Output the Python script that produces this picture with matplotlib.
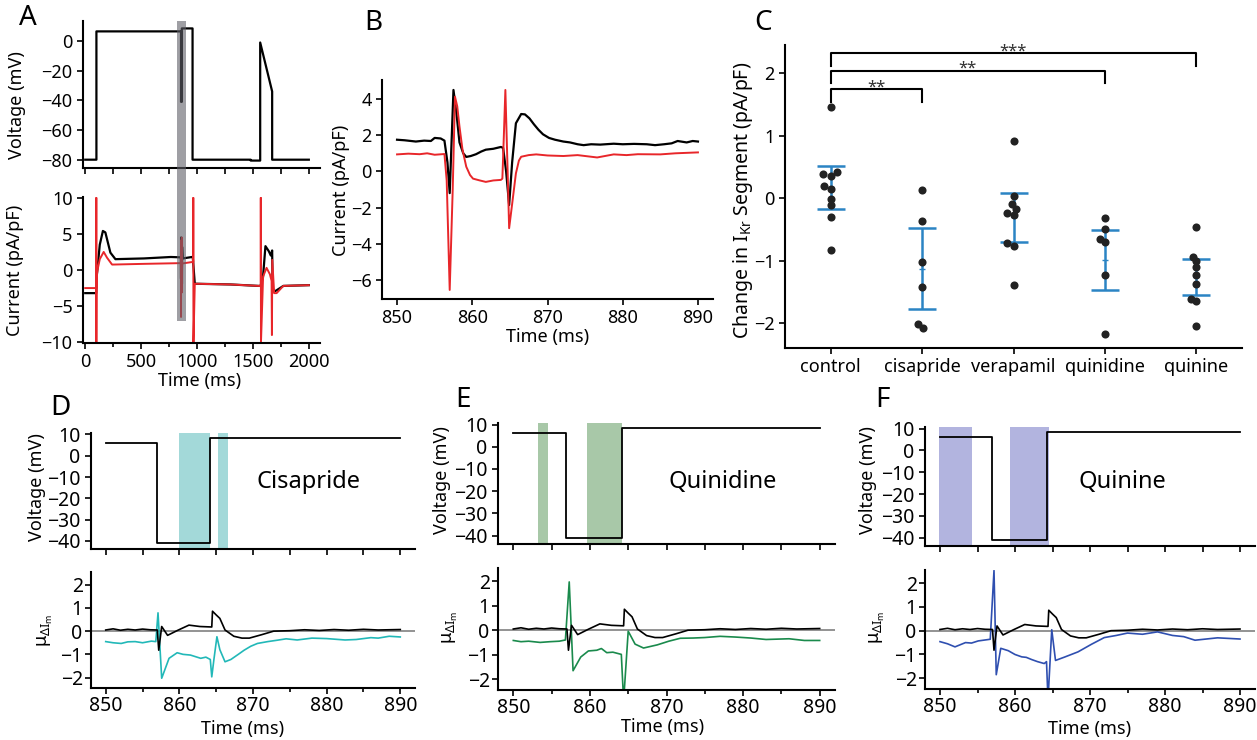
import numpy as np
import matplotlib
matplotlib.use("Agg")
import matplotlib.pyplot as plt
from matplotlib.patches import Rectangle
from matplotlib.ticker import MultipleLocator

plt.rcParams['font.family'] = ['Noto Sans', 'DejaVu Sans']
plt.rcParams['mathtext.fontset'] = 'custom'
plt.rcParams['mathtext.rm'] = 'Noto Sans'
plt.rcParams['mathtext.it'] = 'Noto Sans:italic'
plt.rcParams['axes.linewidth'] = 1.5

# ---------------- data ----------------
# A: full protocol (voltage) and currents, control (black) vs drug (red)
a_volt_t = [0, 100, 100, 857, 857, 864, 864, 960, 960, 1480, 1480, 1565, 1565, 1672, 1672, 2000]
a_volt_v = [-80, -80, 6.5, 6.5, -41, -41, 8.5, 8.5, -80, -80, -80.6, -80.6, -1, -34, -80, -80]
a_ctrl_t = [0, 98, 102, 130, 158, 180, 225, 270, 525, 766, 856, 857, 857.5, 859, 864, 865,
            866.5, 872, 955, 962, 980, 1300, 1550, 1568, 1590, 1612, 1642, 1660, 1672, 1676,
            1690, 1712, 1772, 2000]
a_ctrl_v = [-3.2, -3.2, -1, 3.5, 5.4, 5.2, 2.4, 1.5, 1.6, 1.8, 1.75, -1.2, 4.5, 0.8, 1.3, -1.9,
            3.2, 1.6, 1.8, 1.8, -1.9, -2.0, -2.2, -2.2, -1.0, 3.3, 2.6, 2.0, 2.7, -2.5,
            -3.0, -2.8, -2.2, -2.1]
a_drug_t = [0, 98, 99, 99.5, 101, 110, 130, 165, 195, 240, 525, 856, 857, 857.8, 859, 861, 864,
            864.4, 864.9, 866.5, 955, 966, 966.5, 968, 980, 1300, 1550, 1570, 1570.5, 1572, 1591,
            1622, 1652, 1667, 1670, 1673, 1690, 1712, 1772, 2000]
a_drug_v = [-2.5, -2.5, 10, -10, -1, 0, 1.5, 2.5, 1.7, 0.75, 0.85, 0.95, -6.5, 4.1, 0.3, -0.5, -0.5,
            4.5, -3.1, 0.9, 1.1, 1.1, 10, -10, -1.9, -2.0, -2.2, -2.2, 10, -10, -0.9,
            0.3, -0.6, -1.5, -9.0, 1.4, -3.2, -3.2, -2.2, -2.1]
a_window = (825, 905)

# B: zoom on 850-890 ms
b_ctrl_t = [850, 851, 852.5, 853.6, 854.5, 855, 855.8, 856.3, 856.7, 857.0, 857.5, 857.9, 858.3,
            858.8, 859.2, 859.8, 860.5, 861.2, 861.8, 862.8, 863.8, 864.1, 864.5, 864.9, 865.3,
            865.8, 866.5, 867.0, 867.6, 868.2, 868.8, 869.4, 870.2, 871, 872.1, 873, 874, 874.8,
            875.8, 877, 878.8, 880, 881.5, 883.2, 884.3, 885.5, 886.5, 887.3, 888.5, 889.3, 890]
b_ctrl_v = [1.75, 1.72, 1.65, 1.7, 1.68, 1.85, 1.82, 1.7, 0.5, -1.2, 4.5, 3.2, 1.6,
            1.0, 0.8, 0.85, 0.95, 1.1, 1.2, 1.25, 1.35, 1.3, 0.0, -1.86, 0.5,
            2.66, 3.17, 3.15, 2.93, 2.6, 2.3, 2.05, 1.85, 1.75, 1.65, 1.6, 1.5, 1.45,
            1.5, 1.48, 1.53, 1.5, 1.52, 1.5, 1.45, 1.5, 1.55, 1.68, 1.6, 1.68, 1.65]
b_drug_t = [850, 851.5, 853, 854, 855, 856.3, 856.6, 857.0, 857.4, 857.7, 858.0, 858.3, 858.7,
            859.2, 859.7, 860.1, 861, 861.8, 862.8, 863.8, 864.0, 864.2, 864.4, 864.7, 864.9,
            865.3, 865.8, 866.2, 866.5, 867.5, 868.5, 870, 872.1, 874, 876.6, 878.8, 880.5,
            882, 885, 887, 890]
b_drug_v = [0.94, 0.98, 0.95, 1.0, 0.92, 0.96, -0.5, -6.55, -1.0, 4.13, 3.6, 2.48, 1.2,
            0.26, -0.2, -0.4, -0.5, -0.58, -0.5, -0.47, -0.4, 2.0, 4.5, 0.0, -3.14,
            -1.8, -0.11, 0.6, 0.81, 0.9, 0.94, 0.88, 0.85, 0.9, 0.77, 0.94, 0.9,
            0.95, 0.94, 1.0, 1.05]

# C: change in IKr segment per drug
c_groups = ['control', 'cisapride', 'verapamil', 'quinidine', 'quinine']
c_values = [
    [1.46, 0.38, 0.36, 0.42, 0.19, 0.14, -0.02, -0.11, -0.30, -0.83],
    [0.13, -0.36, -1.02, -1.42, -2.02, -2.08],
    [0.91, 0.03, -0.10, -0.18, -0.24, -0.27, -0.72, -0.77, -1.39],
    [-0.32, -0.50, -0.65, -0.71, -1.23, -2.18],
    [-0.47, -0.94, -1.00, -1.11, -1.23, -1.37, -1.61, -1.65, -2.04],
]
c_jitter = [
    [0, -0.085, 0, 0.07, -0.075, 0, 0, 0, 0, 0],
    [0, 0, 0, 0, -0.05, 0.01],
    [0, 0, -0.02, 0.025, -0.07, 0, -0.07, 0, 0],
    [0, 0, -0.05, 0, 0, 0],
    [0, -0.04, 0, 0, 0, 0, -0.055, 0, 0],
]
c_err_top = [0.51, -0.48, 0.085, -0.51, -0.98]
c_err_bot = [-0.17, -1.78, -0.70, -1.47, -1.55]
c_sig = [(0, 1, '**', 1.74), (0, 3, '**', 2.04), (0, 4, '***', 2.32)]

# D-F: step protocol, control difference and drug difference
step_t = [850, 856.9, 856.9, 864.2, 864.2, 890]
step_v = [6, 6, -41, -41, 8.3, 8.3]
ctrl_t = [850, 851, 852, 853, 854, 855, 856, 857.0, 857.2, 857.6, 858.4, 859.8, 861.3, 862.8,
          864.4, 864.5, 865.0, 865.5, 866.2, 867.4, 868.5, 869.5, 871.2, 872.8, 875, 877, 879,
          881, 883, 885, 887, 890]
ctrl_v = [0.05, 0.1, 0.04, 0.08, 0.05, 0.09, 0.06, 0.05, -0.82, 0.2, -0.18, 0.04, 0.26, 0.2,
          0.18, 0.86, 0.7, 0.55, 0.05, -0.22, -0.3, -0.3, -0.15, 0.0, 0.02, 0.06, 0.03,
          0.07, 0.04, 0.08, 0.05, 0.07]
cis_t = [850, 851, 852.1, 853, 854, 855, 856.2, 856.8, 857.1, 857.6, 858.6, 859.7, 860.5, 861.5,
         862.2, 862.9, 863.6, 864.2, 864.4, 864.7, 865.1, 865.5, 866.2, 867.0, 868.0, 868.8,
         869.7, 870.6, 872, 873.3, 874.5, 876, 878, 880, 882.5, 884, 886, 887, 888.5, 890]
cis_v = [-0.45, -0.5, -0.53, -0.46, -0.45, -0.5, -0.43, -0.45, 0.79, -2.03, -1.17, -0.93, -1.0,
         -1.03, -1.1, -1.17, -1.12, -1.22, -1.97, -1.2, -0.24, -0.8, -1.32, -1.22, -1.0, -0.82,
         -0.65, -0.53, -0.45, -0.39, -0.33, -0.38, -0.3, -0.32, -0.38, -0.36, -0.28, -0.3,
         -0.22, -0.25]
qd_t = [850, 851, 852, 853.5, 854.8, 856, 856.8, 857.3, 857.8, 858.8, 859.8, 860.9, 861.5,
        862.2, 863, 864.1, 864.4, 865.0, 865.9, 867.0, 868.8, 870.3, 871.8, 873.5, 875, 877,
        879, 881, 883, 886, 888, 890]
qd_v = [-0.42, -0.47, -0.45, -0.5, -0.47, -0.45, -0.4, 1.98, -1.66, -1.1, -0.85, -0.82, -0.75,
        -0.92, -0.9, -0.99, -2.9, -0.04, -0.57, -0.73, -0.6, -0.45, -0.33, -0.32, -0.3, -0.25,
        -0.28, -0.32, -0.38, -0.35, -0.42, -0.42]
qn_t = [850, 851, 852.0, 853.4, 854.2, 855.1, 856.7, 857.2, 857.5, 858.1, 859.1, 860.0, 860.9,
        861.5, 862.2, 863.0, 863.9, 864.2, 864.4, 864.9, 865.4, 866.6, 868.4, 870.2, 871.9,
        873.5, 875, 877, 879, 881, 882.5, 884, 887, 890]
qn_v = [-0.46, -0.55, -0.68, -0.5, -0.52, -0.43, -0.36, 2.53, -1.85, -0.74, -0.84, -1.0, -1.1,
        -1.12, -1.21, -1.3, -1.38, -1.3, -2.9, 0.04, -1.25, -1.11, -0.89, -0.57, -0.29,
        -0.2, -0.1, -0.15, -0.05, -0.2, -0.25, -0.4, -0.3, -0.35]
cis_windows = [(860.0, 864.2), (865.2, 866.6)]
qd_windows = [(853.2, 854.5), (859.6, 864.2)]
qn_windows = [(849.8, 854.3), (859.3, 864.5)]

# ---------------- figure ----------------
W, H = 1257, 740
fig = plt.figure(figsize=(W / 100, H / 100), dpi=100)


def add_ax(l, t, r, b):
    ax = fig.add_axes([l / W, 1 - b / H, (r - l) / W, (b - t) / H])
    ax.set_facecolor('none')
    for s in ['top', 'right']:
        ax.spines[s].set_visible(False)
    ax.tick_params(direction='out', length=4, width=1.2, labelsize=13)
    ax.tick_params(which='minor', direction='out', length=3, width=1.2)
    return ax


def ylab(ax, text, x, y, size=13):
    ax.set_ylabel(text, fontsize=size, va='center')
    ax.yaxis.set_label_coords(x / W, 1 - y / H, transform=fig.transFigure)


def xlab(ax, text, x, y, size=13):
    ax.set_xlabel(text, fontsize=size, va='center')
    ax.xaxis.set_label_coords(x / W, 1 - y / H, transform=fig.transFigure)


def letter(s, x, y):
    fig.text(x / W, 1 - y / H, s, fontsize=20, ha='center', va='center')


# ---- A ----
axA1 = add_ax(83, 21, 320, 168)
axA2 = add_ax(83, 197, 320, 343)
axA1.plot(a_volt_t, a_volt_v, color='black', lw=1.6)
axA1.set_xlim(-20, 2100)
axA1.set_ylim(-85.6, 13.5)
axA1.set_yticks([0, -20, -40, -60, -80])
axA1.xaxis.set_major_locator(MultipleLocator(250))
axA1.set_xticklabels([])
ylab(axA1, 'Voltage (mV)', 17, 105)

axA2.plot(a_ctrl_t, a_ctrl_v, color='black', lw=1.6)
axA2.plot(a_drug_t, a_drug_v, color='#e8262a', lw=1.4)
axA2.set_xlim(-20, 2100)
axA2.set_ylim(-10.1, 10.1)
axA2.set_yticks([10, 5, 0, -5, -10])
axA2.set_xticks([0, 500, 1000, 1500, 2000])
axA2.xaxis.set_minor_locator(MultipleLocator(250))
ylab(axA2, 'Current (pA/pF)', 15, 270)
xlab(axA2, 'Time (ms)', 200, 381)

bar_col = '#606068'
axA1.axvspan(a_window[0], a_window[1], color=bar_col, alpha=0.6, lw=0, zorder=5)
fig.canvas.draw()
top_fig = axA1.get_position().y0
top_data = axA2.transData.inverted().transform(fig.transFigure.transform((0, top_fig)))[1]
axA2.add_patch(Rectangle((a_window[0], -7.0), a_window[1] - a_window[0], top_data + 7.0,
                         color=bar_col, alpha=0.6, lw=0, zorder=5, clip_on=False))

# ---- B ----
axB = add_ax(382, 80, 713, 299)
axB.plot(b_ctrl_t, b_ctrl_v, color='black', lw=1.6)
axB.plot(b_drug_t, b_drug_v, color='#e8262a', lw=1.4)
axB.set_xlim(848, 892)
axB.set_ylim(-7.05, 5.05)
axB.set_xticks([850, 860, 870, 880, 890])
axB.set_yticks([4, 2, 0, -2, -4, -6])
ylab(axB, 'Current (pA/pF)', 341, 190)
xlab(axB, 'Time (ms)', 548, 337)

# ---- C ----
axC = add_ax(785, 45, 1242, 348)
for i, (vals, jit) in enumerate(zip(c_values, c_jitter)):
    axC.scatter(np.array(jit) + i, vals, s=34, color='#222222', zorder=3, lw=0)
    mid = (c_err_top[i] + c_err_bot[i]) / 2
    axC.errorbar(i, mid, yerr=(c_err_top[i] - c_err_bot[i]) / 2,
                 color='#2b84c4', lw=1.8, capsize=10, capthick=1.8, fmt='none', zorder=2)
    axC.plot(i, mid, marker='_', ms=5, color='#2b84c4', zorder=2)
for a, b, stars, y in c_sig:
    axC.plot([a, a, b, b], [y - 0.2, y, y, y - 0.2], color='black', lw=1.5, clip_on=False)
    axC.text((a + b) / 2, y + 0.03, stars, ha='center', va='center', fontsize=12, color='#333333')
axC.set_xlim(-0.5, 4.5)
axC.set_ylim(-2.4, 2.45)
axC.set_xticks(range(len(c_groups)))
axC.set_xticklabels(c_groups, fontsize=13)
axC.set_yticks([-2, -1, 0, 1, 2])
ylab(axC, 'Change in I$_{\\mathrm{Kr}}$ Segment (pA/pF)', 743, 200, size=14)

# ---- D-F ----
panels = [
    ((91, 433, 415, 549), (91, 572, 415, 688), cis_windows, '#a3d9d9', cis_t, cis_v, '#22b8b8',
     'Cisapride', (0.67, 0.58), (37, 487), (45, 630), (243, 729)),
    ((498, 423, 835, 544), (498, 568, 835, 690), qd_windows, '#a8c8a8', qd_t, qd_v, '#1a8a4c',
     'Quinidine', (0.668, 0.51), (442, 480), (450, 627), (663, 727)),
    ((925, 427, 1255, 546), (925, 570, 1255, 689), qn_windows, '#b2b4df', qn_t, qn_v, '#2f4fb0',
     'Quinine', (0.597, 0.54), (868, 480), (877, 627), (1090, 729)),
]
for (top, bot, wins, shade, dt, dv, dcol, name, npos, vlab, mlab, tlab) in panels:
    axv = add_ax(*top)
    for w0, w1 in wins:
        axv.axvspan(w0, w1, color=shade, lw=0, zorder=0)
    axv.plot(step_t, step_v, color='black', lw=1.3, zorder=2)
    axv.set_xlim(848, 892)
    axv.set_ylim(-43.8, 10.7)
    axv.set_yticks([10, 0, -10, -20, -30, -40])
    axv.xaxis.set_major_locator(MultipleLocator(5))
    axv.set_xticklabels([])
    axv.tick_params(labelsize=14)
    axv.text(npos[0], npos[1], name, transform=axv.transAxes, fontsize=17, ha='center', va='center')
    ylab(axv, 'Voltage (mV)', vlab[0], vlab[1], size=13)

    axm = add_ax(*bot)
    axm.axhline(0, color='#8a8a8a', lw=1.3, zorder=1)
    axm.plot(ctrl_t, ctrl_v, color='black', lw=1.2, zorder=3)
    axm.plot(dt, dv, color=dcol, lw=1.2, zorder=2)
    axm.set_xlim(848, 892)
    axm.set_ylim(-2.45, 2.55)
    axm.set_yticks([2, 1, 0, -1, -2])
    axm.set_xticks([850, 860, 870, 880, 890])
    axm.xaxis.set_minor_locator(MultipleLocator(5))
    axm.tick_params(labelsize=14, pad=2)
    ylab(axm, 'μ$_{\\Delta \\mathrm{I_m}}$', mlab[0], mlab[1], size=13)
    xlab(axm, 'Time (ms)', tlab[0], tlab[1], size=13)

letter('A', 28, 18)
letter('B', 373, 23)
letter('C', 763, 23)
letter('D', 60, 408)
letter('E', 463, 400)
letter('F', 883, 400)

fig.savefig('out.png', dpi=100)
